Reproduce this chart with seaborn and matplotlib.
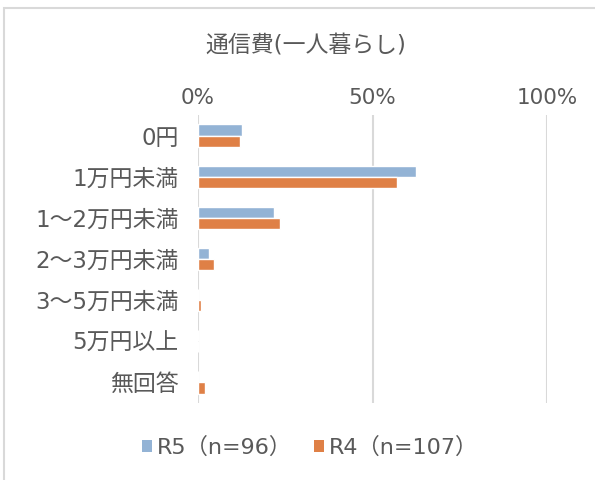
import matplotlib
matplotlib.use("Agg")
import matplotlib.pyplot as plt
import seaborn as sns
import pandas as pd
from matplotlib.patches import Rectangle, Patch

categories = ["0円", "1万円未満", "1～2万円未満", "2～3万円未満", "3～5万円未満", "5万円以上", "無回答"]
r5_values = [12.5, 62.5, 21.9, 3.1, 0.0, 0.0, 0.0]
r4_values = [12.1, 57.0, 23.4, 4.7, 0.9, 0.0, 1.9]
series_names = ["R5（n=96）", "R4（n=107）"]
xticks = [0, 50, 100]
xtick_labels = ["0%", "50%", "100%"]
title = "通信費(一人暮らし)"

df = pd.DataFrame({
    "category": categories * 2,
    "value": r5_values + r4_values,
    "series": [series_names[0]] * len(categories) + [series_names[1]] * len(categories),
})

sns.set_theme(style="white")
plt.rcParams["font.family"] = ["DejaVu Sans", "Noto Sans CJK JP"]
text_color = "#595959"

fig = plt.figure(figsize=(5.95, 4.8), dpi=100)
ax = fig.add_axes([198 / 595, 1 - 403 / 480, (547 - 198) / 595, (403 - 115) / 480])

palette = {series_names[0]: "#93b3d5", series_names[1]: "#df8046"}
sns.barplot(data=df, y="category", x="value", hue="series", orient="h",
            palette=palette, width=0.54, ax=ax, legend=False, saturation=1)

ax.set_xlim(0, 100)
ax.set_xticks(xticks)
ax.set_xticklabels(xtick_labels)
ax.xaxis.tick_top()
ax.tick_params(axis="x", length=0, labelsize=15.5, colors=text_color, pad=5)
ax.tick_params(axis="y", length=0, labelsize=16.5, colors=text_color, pad=14)
ax.set_xlabel("")
ax.set_ylabel("")
for s in ax.spines.values():
    s.set_visible(False)
ax.grid(axis="x", color="#d9d9d9", linewidth=1.5)
ax.grid(axis="y", visible=False)
ax.set_axisbelow(True)

fig.text(306 / 595, 1 - 45 / 480, title, ha="center", va="center", fontsize=16.5, color=text_color)

handles = [Patch(facecolor=palette[n], edgecolor="none") for n in series_names]
fig.legend(handles, series_names, loc="center", bbox_to_anchor=(310 / 595, 1 - 447 / 480),
           ncol=2, frameon=False, fontsize=16, labelcolor=text_color,
           handlelength=0.45, handleheight=0.45, handletextpad=0.2, columnspacing=1.0)

fig.patches.append(Rectangle((4 / 595, -0.05), 1.1, 1 - 8 / 480 + 0.05, transform=fig.transFigure,
                             fill=False, edgecolor="#d9d9d9", linewidth=1.5))

fig.savefig("out.png", dpi=100)
